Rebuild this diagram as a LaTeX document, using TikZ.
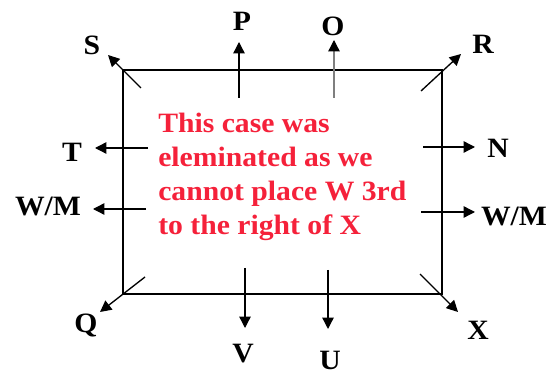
\documentclass[tikz,border=0pt]{standalone}
\usepackage{fontspec}
\setmainfont{Liberation Serif}[FakeStretch=1.06]
\usetikzlibrary{arrows.meta}
\definecolor{CaseRed}{HTML}{F5213A}
\definecolor{ShaftGray}{HTML}{7F7F7F}

\tikzset{
  dirlabel/.style={anchor=base,inner sep=0pt,font=\fontsize{21}{25}\selectfont\bfseries},
  dirarrow/.style={line width=1pt,-{Triangle[length=8.5pt,width=8.5pt]}},
}

\begin{document}
\begin{tikzpicture}[x=0.75pt,y=-0.75pt]
\path[use as bounding box] (0,0) rectangle (556,373);
\fill[white] (0,0) rectangle (556,373);
\draw[line width=1pt] (123,70) rectangle (442,294);
% direction labels
\node[dirlabel] (S) at (92,55) {S};
\node[dirlabel] (P) at (242,31) {P};
\node[dirlabel] (O) at (333,36) {O};
\node[dirlabel] (R) at (483,54) {R};
\node[dirlabel] (T) at (72,162) {T};
\node[dirlabel] (N) at (498,158) {N};
\node[dirlabel] (WMl) at (48,216) {W/M};
\node[dirlabel] (WMr) at (514,226) {W/M};
\node[dirlabel] (Q) at (86,333) {Q};
\node[dirlabel] (V) at (243,363) {V};
\node[dirlabel] (U) at (330,369) {U};
\node[dirlabel] (X) at (478,340) {X};
% arrow feet and tips
\coordinate (fS) at (141,88);  \coordinate (tS) at (108,55);
\coordinate (fP) at (239,98);  \coordinate (tP) at (239,42);
\coordinate (fO) at (334,98);  \coordinate (tO) at (334,40);
\coordinate (fR) at (421,91);  \coordinate (tR) at (461,54);
\coordinate (fT) at (148,148); \coordinate (tT) at (95,148);
\coordinate (fN) at (423,147); \coordinate (tN) at (475,147);
\coordinate (fWMl) at (146,209); \coordinate (tWMl) at (93,209);
\coordinate (fWMr) at (421,212); \coordinate (tWMr) at (475,212);
\coordinate (fQ) at (145,277); \coordinate (tQ) at (100,312);
\coordinate (fV) at (245,268); \coordinate (tV) at (245,328);
\coordinate (fU) at (328,270); \coordinate (tU) at (328,329);
\coordinate (fX) at (420,274); \coordinate (tX) at (458,312);
\foreach \d in {S,P,R,T,N,WMl,WMr,Q,V,U,X}
  \draw[dirarrow] (f\d) -- (t\d);
\draw[dirarrow,ShaftGray,-{Triangle[length=8.5pt,width=8.5pt,color=black]}] (fO) -- (tO);
% the note (base = last line)
\node[anchor=base west,align=left,inner sep=0pt,text=CaseRed,
  font=\fontsize{21}{25.5}\selectfont\bfseries] (note) at (158,235)
  {This case was\\eleminated as we\\cannot place W 3rd\\to the right of X};
\end{tikzpicture}
\end{document}
